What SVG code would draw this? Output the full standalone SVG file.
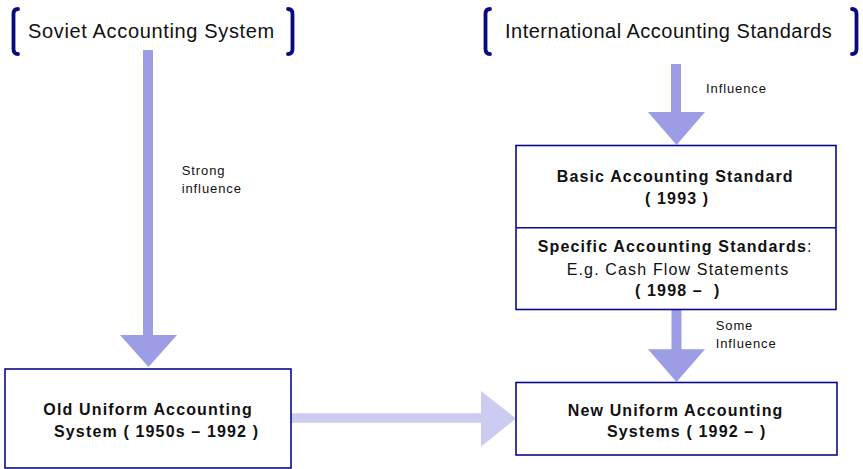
<svg xmlns="http://www.w3.org/2000/svg" width="863" height="469" viewBox="0 0 863 469">
<style>
.bg{fill:#ffffff}
.box{fill:#ffffff;stroke:#0a0a8a;stroke-width:1.6}
.div{stroke:#0a0a8a;stroke-width:1.6}
.br{fill:none;stroke:#0a0a80;stroke-width:3.8;stroke-linecap:round}
.arr{fill:#9d9de6}
.arr2{fill:#ccccf2}
.t{font-family:"Liberation Sans",Arial,sans-serif;fill:#111}
.title{font-size:20px}
.lab{font-size:13px;letter-spacing:0.9px}
.b{font-size:16px;font-weight:bold;letter-spacing:1.15px}
.r{font-size:16px;letter-spacing:1.15px}
</style>
<rect class="bg" x="0" y="0" width="863" height="469"/>

<g id="connectors">
  <polygon class="arr" points="143,50 153,50 153,335 177,335 148.5,367 120,335 143,335"/>
  <polygon class="arr" points="671,64 681,64 681,112 705,112 676.5,145 648,112 671,112"/>
  <polygon class="arr" points="671.5,309.5 681.5,309.5 681.5,349.3 705,349.3 676.5,382 648,349.3 671.5,349.3"/>
  <polygon class="arr2" points="291,413.3 481,413.3 481,391 516,418.5 481,446.7 481,422.7 291,422.7"/>
  <text class="t lab" x="181.7" y="175">Strong</text>
  <text class="t lab" x="181.7" y="192.7">influence</text>
  <text class="t lab" x="706" y="92.7">Influence</text>
  <text class="t lab" x="715.7" y="330">Some</text>
  <text class="t lab" x="715.7" y="347.7">Influence</text>
</g>

<g id="soviet">
  <path class="br" d="M18,9 Q13.5,9 13.5,14 L13.5,49 Q13.5,54 18,54"/>
  <path class="br" d="M288,9 Q292.5,9 292.5,14 L292.5,49 Q292.5,54 288,54"/>
  <text class="t title" x="28" y="38" style="letter-spacing:0.65px">Soviet Accounting System</text>
</g>

<g id="ias">
  <path class="br" d="M490,9 Q485.5,9 485.5,14 L485.5,49 Q485.5,54 490,54"/>
  <path class="br" d="M852,9 Q856.5,9 856.5,14 L856.5,49 Q856.5,54 852,54"/>
  <text class="t title" x="505" y="38" style="letter-spacing:0.5px">International Accounting Standards</text>
</g>

<g id="basic">
  <rect class="box" x="516" y="145.5" width="320" height="164"/>
  <line class="div" x1="516" y1="227.7" x2="836" y2="227.7"/>
  <text class="t b" x="556.7" y="182.3">Basic Accounting Standard</text>
  <text class="t b" x="645" y="204">( 1993 )</text>
  <text class="t b" x="537.7" y="252.3">Specific Accounting Standards<tspan style="font-weight:normal">:</tspan></text>
  <text class="t r" x="566.7" y="275">E.g. Cash Flow Statements</text>
  <text class="t b" x="635" y="296">( 1998 –&#160; )</text>
</g>

<g id="old">
  <rect class="box" x="5" y="369" width="286" height="99"/>
  <text class="t b" x="43.3" y="415">Old Uniform Accounting</text>
  <text class="t b" x="54" y="436.7">System ( 1950s – 1992 )</text>
</g>

<g id="new">
  <rect class="box" x="516" y="382.5" width="321" height="72.5"/>
  <text class="t b" x="567.7" y="416">New Uniform Accounting</text>
  <text class="t b" x="607" y="436.7">Systems ( 1992 – )</text>
</g>
</svg>
